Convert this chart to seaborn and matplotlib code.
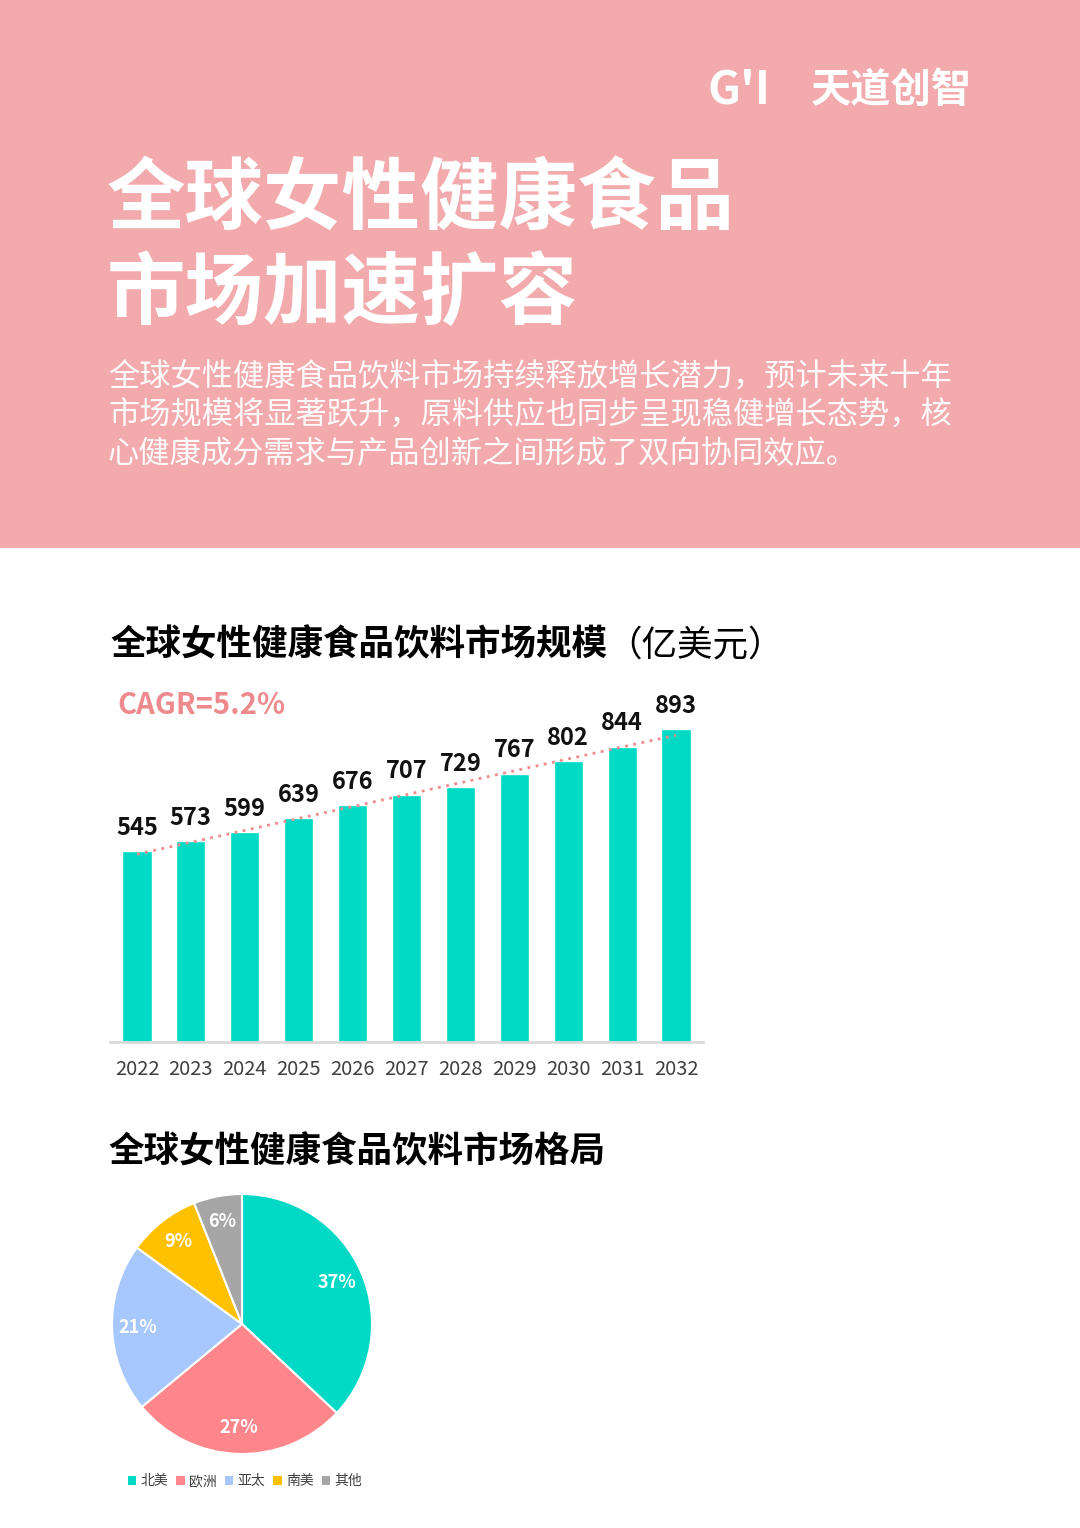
import numpy as np
import pandas as pd
import matplotlib.pyplot as plt
import seaborn as sns
from matplotlib.patches import Rectangle, Patch

# data
years = ["2022", "2023", "2024", "2025", "2026", "2027", "2028", "2029", "2030", "2031", "2032"]
market_size = [545, 573, 599, 639, 676, 707, 729, 767, 802, 844, 893]
regions = ["北美", "欧洲", "亚太", "南美", "其他"]
region_share = [37, 27, 21, 9, 6]
region_colors = ["#00D9C5", "#FF878B", "#A6C8FF", "#FFC000", "#A6A6A6"]

W, H = 1080, 1528
sns.set_theme(style="white")
plt.rcParams['font.family'] = ['Noto Sans CJK SC', 'DejaVu Sans']

fig = plt.figure(figsize=(W / 100, H / 100), dpi=100)
fig.patch.set_facecolor("white")


def fx(x):
    return x / W


def fy(y):
    return 1 - y / H


# pink header
fig.patches.append(Rectangle((0, fy(548)), 1, 548 / H, transform=fig.transFigure,
                             facecolor="#F2AAAD", edgecolor="none", zorder=0))

fig.text(fx(708), fy(90), "G'I", color="white", fontsize=33, fontweight="bold",
         ha="left", va="center")
fig.text(fx(972), fy(90), "天道创智", color="white", fontsize=29, fontweight="bold",
         ha="right", va="center")
fig.text(fx(107), fy(200), "全球女性健康食品", color="white", fontsize=56.5, fontweight="bold",
         ha="left", va="center")
fig.text(fx(107), fy(295), "市场加速扩容", color="white", fontsize=56.5, fontweight="bold",
         ha="left", va="center")
body = ["全球女性健康食品饮料市场持续释放增长潜力，预计未来十年",
        "市场规模将显著跃升，原料供应也同步呈现稳健增长态势，核",
        "心健康成分需求与产品创新之间形成了双向协同效应。"]
for i, line in enumerate(body):
    fig.text(fx(108), fy(378 + 38 * i), line, color="white", fontsize=22.5, alpha=0.95,
             ha="left", va="center")

# section title 1
fig.text(fx(110), fy(645), "全球女性健康食品饮料市场规模", color="black", fontsize=25.6,
         fontweight="bold", ha="left", va="center")
fig.text(fx(606), fy(645), "（亿美元）", color="black", fontsize=25.6, ha="left", va="center")

# bar chart
ax = fig.add_axes([fx(110), fy(1042), fx(593), 350 / H])
df = pd.DataFrame({"year": years, "size": market_size})
sns.barplot(data=df, x="year", y="size", color="#00D9C5", width=0.54, saturation=1, ax=ax)
ax.set_ylim(0, 1000)
ax.set_xlim(-0.5, 10.5)
ax.bar_label(ax.containers[0], fmt="%d", padding=8, fontsize=17, fontweight="bold", color="#111111")
k, b = np.polyfit(np.arange(len(market_size)), market_size, 1)
xs = np.arange(len(market_size))
ax.plot(xs, k * xs + b, linestyle=(0, (1, 2)), color="#F08A8E", linewidth=2)
ax.set_xlabel("")
ax.set_ylabel("")
ax.set_yticks([])
for s in ["top", "right", "left"]:
    ax.spines[s].set_visible(False)
ax.spines["bottom"].set_color("#D9D9D9")
ax.spines["bottom"].set_linewidth(2)
ax.tick_params(axis="x", length=0, labelsize=14.5, labelcolor="#404040", pad=12)
ax.patch.set_alpha(0)

fig.text(fx(117), fy(705), "CAGR=5.2%", color="#EE8A8D", fontsize=21, fontweight="bold",
         ha="left", va="center")

# section title 2
fig.text(fx(108), fy(1152), "全球女性健康食品饮料市场格局", color="black", fontsize=25.6,
         fontweight="bold", ha="left", va="center")

# pie chart
pax = fig.add_axes([fx(112), fy(1454), fx(260), 260 / H])
wedges, _, autotexts = pax.pie(region_share, colors=region_colors, startangle=90, counterclock=False,
                               autopct="%d%%", pctdistance=0.8,
                               wedgeprops=dict(edgecolor="white", linewidth=1.5),
                               textprops=dict(color="white", fontsize=13, fontweight="bold"))
pax.set_xlim(-1, 1)
pax.set_ylim(-1, 1)
pax.set_aspect("equal")
pax.axis("off")

handles = [Patch(facecolor=c, edgecolor="none") for c in region_colors]
fig.legend(handles, regions, loc="center", bbox_to_anchor=(fx(245), fy(1481)), ncol=5,
           frameon=False, fontsize=10, handlelength=0.6, handleheight=0.6,
           handletextpad=0.3, columnspacing=0.6, labelcolor="#404040")

fig.savefig("out.png", dpi=100)
